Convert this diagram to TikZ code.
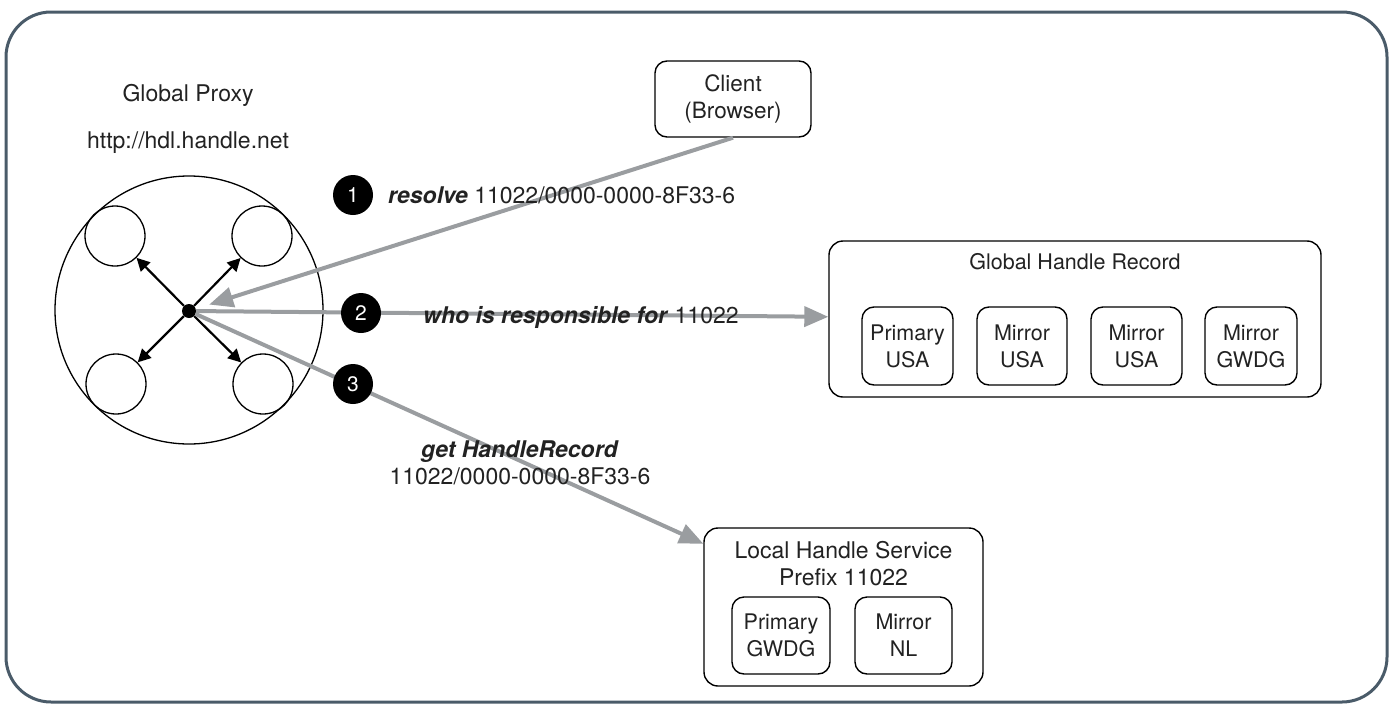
\documentclass[tikz,border=0pt]{standalone}
\usepackage{fontspec}
\setmainfont{TeX Gyre Heros}
\usetikzlibrary{arrows.meta}
\definecolor{framecol}{HTML}{4A5B69}
\definecolor{arrowgray}{HTML}{9A9DA0}
\definecolor{txt}{HTML}{222222}
\begin{document}
\begin{tikzpicture}[x=1pt,y=-1pt,
  every node/.style={text=txt},
  lbl/.style={inner sep=0pt, font=\fontsize{23}{27}\selectfont, align=center},
  box/.style={draw=black, line width=1.4pt, rounded corners=12pt, align=center, inner sep=0pt},
  outerbox/.style={box, rounded corners=14pt},
  innerbox/.style={box, minimum height=78pt, font=\fontsize{21.5}{27}\selectfont},
  ring/.style={draw=black, line width=1.3pt, circle, inner sep=0pt},
  blackarrow/.style={draw=black, line width=2.2pt, -{Triangle[length=13pt,width=13pt]}},
  grayarrow/.style={draw=arrowgray, line width=4pt, -{Triangle[length=24pt,width=20pt]}},
  badge/.style={circle, fill=black, inner sep=0pt, minimum size=40pt, text=white, font=\fontsize{21}{21}\selectfont}
]
\useasboundingbox (0,0) rectangle (1394,704);
\draw[framecol, line width=3pt, rounded corners=45pt] (6,12) rectangle (1387,702);

% Global proxy
\node[lbl] (gptitle) at (188,95) {Global Proxy};
\node[lbl] (gpurl) at (188,143) {http://hdl.handle.net};
\node[ring, minimum size=268pt] (proxy) at (189,310) {};
\node[ring, minimum size=60pt] (c1) at (115,236) {};
\node[ring, minimum size=60pt] (c2) at (262,236) {};
\node[ring, minimum size=60pt] (c3) at (116,384) {};
\node[ring, minimum size=60pt] (c4) at (263,384) {};
\node[circle, fill=black, inner sep=0pt, minimum size=14pt] (dot) at (189,311) {};
\draw[blackarrow] (dot) -- (c1);
\draw[blackarrow] (dot) -- (c2);
\draw[blackarrow] (dot) -- (c3);
\draw[blackarrow] (dot) -- (c4);

% Client
\node[box, minimum width=156pt, minimum height=76pt, font=\fontsize{22.5}{27}\selectfont] (client) at (733,99) {Client\\(Browser)};

% Global handle record
\node[outerbox, minimum width=492pt, minimum height=156pt] (ghr) at (1075,319) {};
\node[lbl, font=\fontsize{21.5}{27}\selectfont] (ghrtitle) at (1075,262) {Global Handle Record};
\node[innerbox, minimum width=91pt] (g1) at (907.5,346) {Primary\\USA};
\node[innerbox, minimum width=90pt] (g2) at (1022,346) {Mirror\\USA};
\node[innerbox, minimum width=91pt] (g3) at (1136.5,346) {Mirror\\USA};
\node[innerbox, minimum width=92pt] (g4) at (1251,346) {Mirror\\GWDG};

% Local handle service
\node[outerbox, minimum width=279pt, minimum height=158pt] (local) at (843.5,607) {};
\node[lbl] (localtitle) at (843.5,563.5) {Local Handle Service\\Prefix 11022};
\node[innerbox, minimum width=98pt, minimum height=77pt] (l1) at (781,635.5) {Primary\\GWDG};
\node[innerbox, minimum width=97pt, minimum height=77pt] (l2) at (903.5,635.5) {Mirror\\NL};

% gray connectors
\draw[grayarrow, shorten >=14pt] (client.south) -- (dot);
\draw[grayarrow] (dot) -- (ghr);
\draw[grayarrow] (dot) -- (local);

% step labels
\node[badge] (b1) at (353,195) {1};
\node[badge] (b2) at (361,313) {2};
\node[badge] (b3) at (353,384) {3};
\node[lbl, anchor=west] (t1) at (388,195) {\textbf{\textit{resolve}} 11022/0000-0000-8F33-6};
\node[lbl, anchor=west] (t2) at (423,317) {\textbf{\textit{who is responsible for}} 11022};
\node[lbl] (t3) at (520,463) {\textbf{\textit{get HandleRecord}}\\11022/0000-0000-8F33-6};
\end{tikzpicture}
\end{document}
